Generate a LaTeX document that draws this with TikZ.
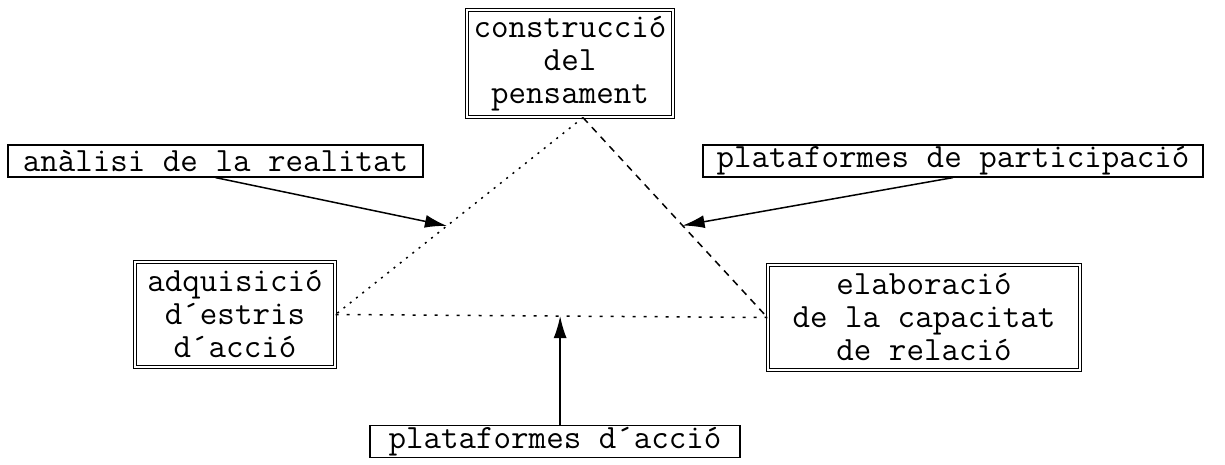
\documentclass[tikz,border=0pt]{standalone}
\usepackage{fontspec}
\usetikzlibrary{arrows.meta,positioning}

\begin{document}
\begin{tikzpicture}[x=1pt,y=-1pt,>={Latex[length=22pt,width=13pt]},line width=1.5pt,
	font=\ttfamily\fontsize{34}{33}\selectfont]
	\tikzstyle{idea}=[draw=black,double,double distance=2pt,line width=1.2pt,align=center,inner sep=2pt]
	\tikzstyle{source}=[draw=black,line width=1.2pt,inner sep=1pt,minimum height=32pt]

	\useasboundingbox (0,0) rectangle (1225,465);

	\node[idea,minimum width=206pt,minimum height=107pt] (cons) at (570,63.5) {construcció\\del\\pensament};
	\node[idea,minimum width=200pt,minimum height=105pt] (adq) at (235,314.5) {adquisició\\d´estris\\d´acció};
	\node[idea,minimum width=312pt,minimum height=105pt] (elab) at (924,317.5) {elaboració\\de la capacitat\\de relació};

	\node[source,minimum width=415pt] (anal) at (215.5,161) {anàlisi de la realitat};
	\node[source,minimum width=500pt] (part) at (953,161) {plataformes de participació};
	\node[source,minimum width=370pt] (accio) at (555,441.5) {plataformes d´acció};

	\draw[dash pattern=on 2pt off 6pt] ([xshift=13pt]cons.south) -- coordinate[pos=.55] (lmid) (adq.east);
	\draw[dash pattern=on 7pt off 6pt] ([xshift=13pt]cons.south) -- coordinate[pos=.54] (rmid) (elab.west);
	\draw[dash pattern=on 3pt off 8pt] (adq.east) -- coordinate[pos=.52] (bmid) (elab.west);

	\draw[->] (anal.south) -- (lmid);
	\draw[->] (part.south) -- (rmid);
	\draw[->] (bmid |- accio.north) -- (bmid);
\end{tikzpicture}
\end{document}
